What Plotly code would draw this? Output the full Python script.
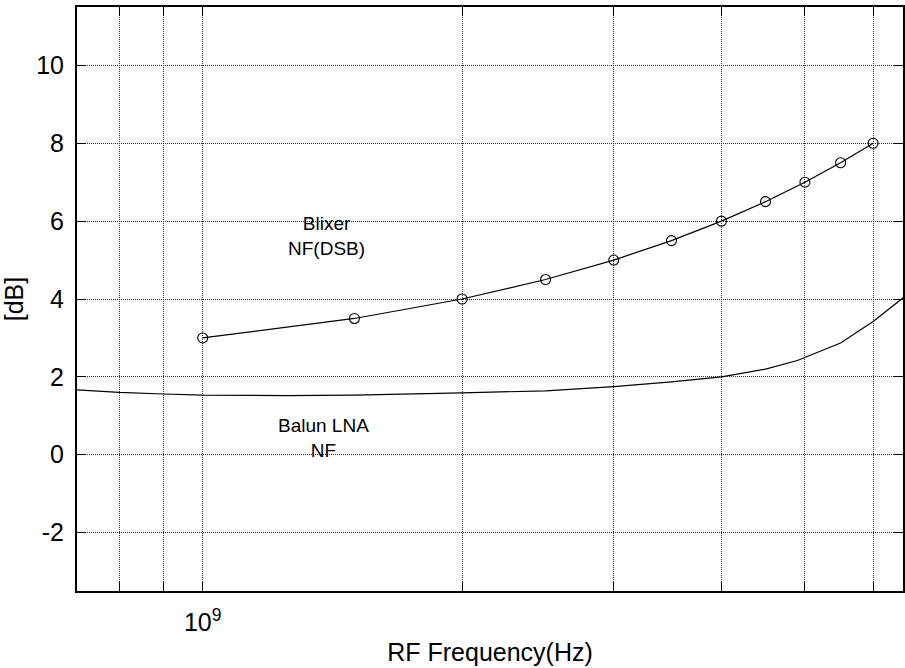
import plotly.graph_objects as go

# Blixer double-sideband noise figure (dB) vs RF frequency
blixer_freq_ghz = [1.0, 1.5, 2.0, 2.5, 3.0, 3.5, 4.0, 4.5, 5.0, 5.5, 6.0]
blixer_nf_db = [3.0, 3.5, 4.0, 4.5, 5.0, 5.5, 6.0, 6.5, 7.0, 7.5, 8.0]

# Balun LNA noise figure (dB) vs RF frequency
lna_freq_ghz = [0.7, 0.8, 0.9, 1.0, 1.25, 1.5, 2.0, 2.5, 3.0, 3.5, 4.0, 4.5, 4.9, 5.5, 6.0, 6.5]
lna_nf_db = [1.68, 1.60, 1.56, 1.53, 1.52, 1.53, 1.59, 1.64, 1.75, 1.87, 2.00, 2.20, 2.42, 2.87, 3.42, 4.03]

# x grid positions (Hz) and their labels
x_grid_hz = [0.8e9, 0.9e9, 1e9, 2e9, 3e9, 4e9, 5e9, 6e9, 7e9, 8e9, 9e9]
x_grid_text = ["", "", "10<sup>9</sup>", "", "", "", "", "", "", "", ""]

y_ticks = [-2, 0, 2, 4, 6, 8, 10]

FONT = "Arial, 'Liberation Sans', sans-serif"

fig = go.Figure()
fig.add_trace(go.Scatter(
    x=[f * 1e9 for f in lna_freq_ghz], y=lna_nf_db, mode="lines",
    line=dict(color="black", width=1.2), showlegend=False, hoverinfo="skip"))
fig.add_trace(go.Scatter(
    x=[f * 1e9 for f in blixer_freq_ghz], y=blixer_nf_db, mode="lines+markers",
    line=dict(color="black", width=1.2),
    marker=dict(symbol="circle-open", size=10, color="black", line=dict(width=1.1)),
    showlegend=False, cliponaxis=False))

fig.add_annotation(x=9.1436, y=5.62, xref="x", yref="y", text="Blixer<br>NF(DSB)",
                   showarrow=False, font=dict(family=FONT, size=19, color="black"))
fig.add_annotation(x=9.140, y=0.44, xref="x", yref="y", text="Balun LNA<br>NF",
                   showarrow=False, font=dict(family=FONT, size=19, color="black"))

axis_common = dict(
    showline=True, linecolor="black", linewidth=2, mirror="ticks",
    ticks="inside", ticklen=9, tickcolor="black", tickwidth=1,
    showgrid=True, gridcolor="#333", gridwidth=1, griddash="1px,1px",
    zeroline=False,
    tickfont=dict(family=FONT, size=25, color="black"),
)

fig.update_xaxes(
    type="log", range=[8.8541, 9.8128],
    tickmode="array", tickvals=x_grid_hz, ticktext=x_grid_text,
    title=dict(text="RF Frequency(Hz)", font=dict(family=FONT, size=25, color="black"), standoff=8),
    ticklabelstandoff=8,
    **axis_common)
fig.update_yaxes(
    range=[-3.5, 11.5], tickmode="array", tickvals=y_ticks,
    ticktext=[str(v) for v in y_ticks],
    title=dict(text="[dB]", font=dict(family=FONT, size=25, color="black"), standoff=6),
    ticklabelstandoff=6,
    **axis_common)

fig.update_layout(
    width=905, height=668,
    margin=dict(l=77, r=0, t=7, b=77),
    paper_bgcolor="white", plot_bgcolor="white",
    font=dict(family=FONT, color="black"),
)

fig.write_html("out.html")
